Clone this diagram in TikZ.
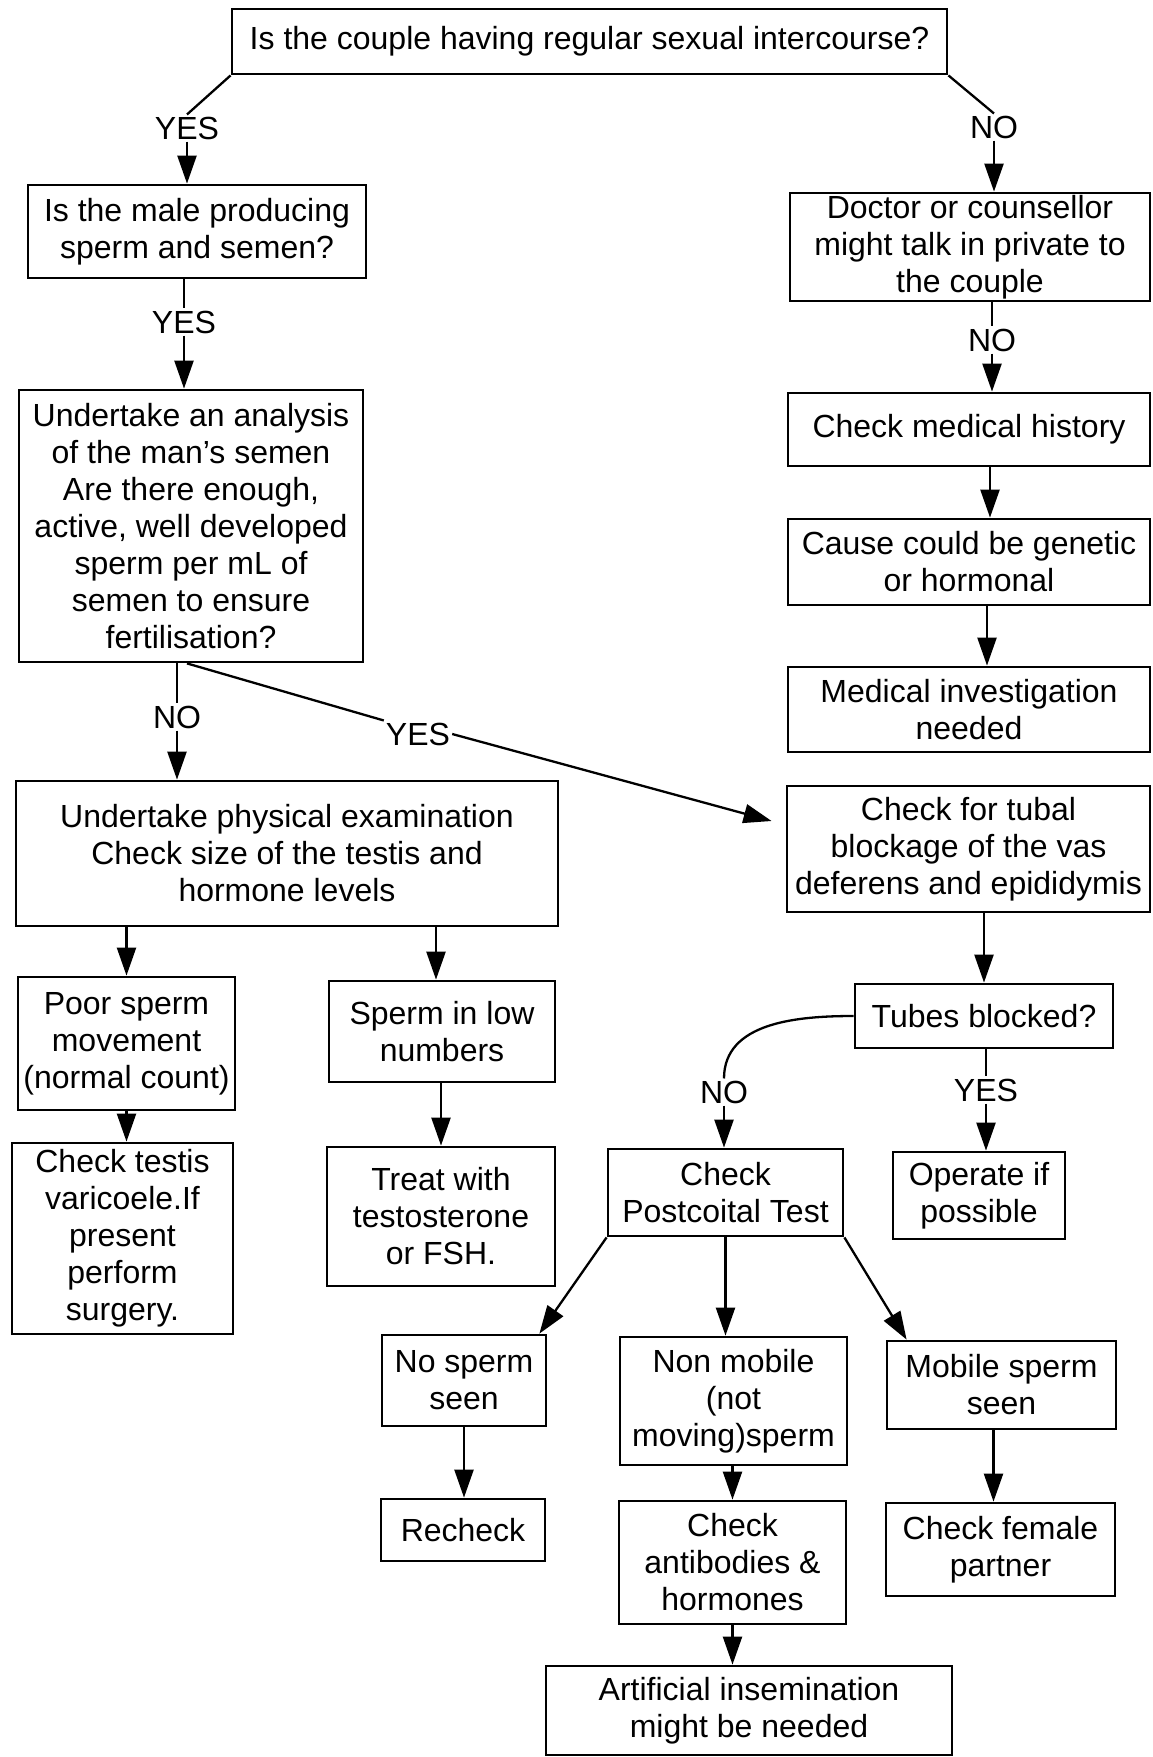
\documentclass[tikz,border=0pt]{standalone}
\usepackage{fontspec}
\setmainfont{Liberation Sans}
\usetikzlibrary{arrows.meta}
\begin{document}
\begin{tikzpicture}[x=1pt,y=-1pt,
  every node/.style={font=\fontsize{32}{37}\selectfont},
  box/.style={draw, line width=2.8pt, align=center, inner sep=0pt},
  lbl/.style={inner sep=2pt},
  conn/.style={line width=2.3pt},
  arr/.style={conn, -{Triangle[length=28pt,width=19pt]}}]
\useasboundingbox (0,0) rectangle (1152,1757);

% decision and action boxes
\node[box, minimum width=715pt, minimum height=65pt] (couple) at (589.5,41.5)
  {Is the couple having regular sexual intercourse?};
\node[box, minimum width=338pt, minimum height=93pt] (male) at (197,231.5)
  {Is the male producing\\sperm and semen?};
\node[box, minimum width=360pt, minimum height=108pt] (doctor) at (970,247)
  {Doctor or counsellor\\might talk in private to\\the couple};
\node[box, minimum width=344pt, minimum height=272pt] (analysis) at (191,526)
  {Undertake an analysis\\of the man’s semen\\Are there enough,\\active, well developed\\sperm per mL of\\semen to ensure\\fertilisation?};
\node[box, minimum width=362pt, minimum height=73pt] (history) at (969,429.5)
  {Check medical history};
\node[box, minimum width=362pt, minimum height=86pt] (genetic) at (969,562)
  {Cause could be genetic\\or hormonal};
\node[box, minimum width=362pt, minimum height=85pt] (investigation) at (969,709.5)
  {Medical investigation\\needed};
\node[box, minimum width=542pt, minimum height=145pt] (physical) at (287,853.5)
  {Undertake physical examination\\Check size of the testis and\\hormone levels};
\node[box, minimum width=363pt, minimum height=126pt] (tubal) at (968.5,849)
  {Check for tubal\\blockage of the vas\\deferens and epididymis};
\node[box, minimum width=217pt, minimum height=133pt] (poor) at (126.5,1043.5)
  {Poor sperm\\movement\\(normal count)};
\node[box, minimum width=226pt, minimum height=101pt] (low) at (442,1031.5)
  {Sperm in low\\numbers};
\node[box, minimum width=258pt, minimum height=64pt] (tubes) at (984,1016)
  {Tubes blocked?};
\node[box, minimum width=221pt, minimum height=191pt] (testis) at (122.5,1238.5)
  {Check testis\\varicoele.If\\present\\perform\\surgery.};
\node[box, minimum width=228pt, minimum height=139pt] (treat) at (441,1216.5)
  {Treat with\\testosterone\\or FSH.};
\node[box, minimum width=235pt, minimum height=87pt] (postcoital) at (725.5,1192.5)
  {Check\\Postcoital Test};
\node[box, minimum width=172pt, minimum height=87pt] (operate) at (979,1195.5)
  {Operate if\\possible};
\node[box, minimum width=164pt, minimum height=91pt] (nosperm) at (464,1380.5)
  {No sperm\\seen};
\node[box, minimum width=227pt, minimum height=128pt] (nonmobile) at (733.5,1401)
  {Non mobile\\(not\\moving)sperm};
\node[box, minimum width=229pt, minimum height=88pt] (mobile) at (1001.5,1385)
  {Mobile sperm\\seen};
\node[box, minimum width=164pt, minimum height=62pt] (recheck) at (463,1530)
  {Recheck};
\node[box, minimum width=227pt, minimum height=123pt] (antibodies) at (732.5,1562.5)
  {Check\\antibodies \&\\hormones};
\node[box, minimum width=229pt, minimum height=93pt] (female) at (1000.5,1549.5)
  {Check female\\partner};
\node[box, minimum width=406pt, minimum height=89pt] (artificial) at (749,1710.5)
  {Artificial insemination\\might be needed};

% branch labels
\node[lbl] (yes1) at (187,128) {YES};
\node[lbl] (no1) at (994,127) {NO};
\node[lbl] (yes2) at (184,322) {YES};
\node[lbl] (no2) at (992,340) {NO};
\node[lbl] (no3) at (177,717) {NO};
\node[lbl] (yes3) at (418,734) {YES};
\node[lbl] (no4) at (724,1092) {NO};
\node[lbl] (yes4) at (986,1090) {YES};

% helper points for offset connectors
\coordinate (histout) at ([xshift=21pt]history.south);
\coordinate (genout) at ([xshift=18pt]genetic.south);
\coordinate (lowin) at ([xshift=-6pt]low.north);
\coordinate (femin) at ([xshift=-7pt]female.north);
\coordinate (tubalin) at ([xshift=-14pt,yshift=28pt]tubal.west);

% connectors
\draw[conn] (couple.south west) -- (yes1.north);
\draw[arr] (yes1.south) -- (yes1.south |- male.north);
\draw[conn] (couple.south east) -- (no1.north);
\draw[arr] (no1.south) -- (no1.south |- doctor.north);
\draw[conn] (yes2 |- male.south) -- (yes2.north);
\draw[arr] (yes2.south) -- (yes2.south |- analysis.north);
\draw[conn] (no2 |- doctor.south) -- (no2.north);
\draw[arr] (no2.south) -- (no2.south |- history.north);
\draw[arr] (histout) -- (histout |- genetic.north);
\draw[arr] (genout) -- (genout |- investigation.north);
\draw[conn] (no3 |- analysis.south) -- (no3.north);
\draw[arr] (no3.south) -- (no3.south |- physical.north);
\draw[conn] ([xshift=-4pt]analysis.south) -- (yes3.north west);
\draw[arr] (yes3.east) -- (tubalin);
\draw[arr] (poor.north |- physical.south) -- (poor.north);
\draw[arr] (lowin |- physical.south) -- (lowin);
\draw[arr] (tubes.north |- tubal.south) -- (tubes.north);
\draw[arr] (poor.south) -- (poor.south |- testis.north);
\draw[arr] (treat.north |- low.south) -- (treat.north);
\draw[conn] (tubes.west) to[out=180,in=90] (no4.north);
\draw[arr] (no4.south) -- (no4.south |- postcoital.north);
\draw[conn] (yes4 |- tubes.south) -- (yes4.north);
\draw[arr] (yes4.south) -- (yes4.south |- operate.north);
\draw[arr] (postcoital.south west) -- ([xshift=-8pt]nosperm.north east);
\draw[arr] (postcoital.south) -- (postcoital.south |- nonmobile.north);
\draw[arr] (postcoital.south east) -- ([xshift=21pt]mobile.north west);
\draw[arr] (nosperm.south) -- (nosperm.south |- recheck.north);
\draw[arr] (antibodies.north |- nonmobile.south) -- (antibodies.north);
\draw[arr] (femin |- mobile.south) -- (femin);
\draw[arr] (antibodies.south) -- (antibodies.south |- artificial.north);
\end{tikzpicture}
\end{document}
